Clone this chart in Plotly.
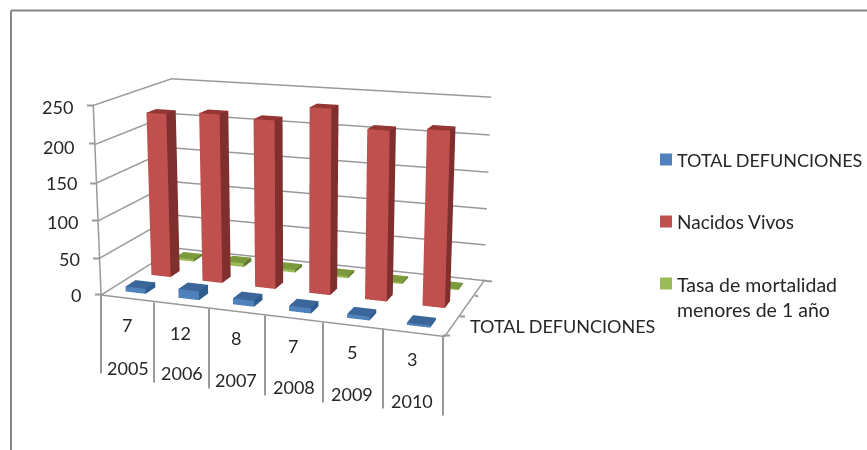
import plotly.graph_objects as go

W, H = 867, 450
years = ["2005", "2006", "2007", "2008", "2009", "2010"]
deaths_labels = ["7", "12", "8", "7", "5", "3"]
total_defunciones = [7, 12, 8, 7, 5, 3]
nacidos_vivos = [225, 229, 226, 246, 223, 228]
tasa_mortalidad = [3.2, 5.4, 3.7, 2.9, 2.3, 1.4]
z_ticks = [0, 50, 100, 150, 200, 250]
series_names = ["TOTAL DEFUNCIONES", "Nacidos Vivos", "Tasa de mortalidad<br>menores de 1 año"]

XR, YR, ZR = (0, 6), (0, 3), (0, 250)
eye = (1.6758, -4.6345, 1.2405); cen = (0.0172, 0, -0.0367); upv = (-0.0010, 0, 1.0); asp = (1.4, 0.6998, 0.7655)
CX, CY = 300.0, 205.0
HP = 1057; OFF = HP/2 - CY

COL={"blue":("#4F81BD","#2F5C8F","#3A6699"),"red":("#C0504D","#7F2F2D","#943634"),"green":("#9BBB59","#5F7A2F","#7A9A3C")}
def cuboid(vals,ypos,cols,name):
    X,Y,Z,I,J,K,F=[],[],[],[],[],[],[]
    y0,y1=ypos+.31,ypos+.69
    for n,v in enumerate(vals):
        x0,x1=n+.31,n+.69
        b=len(X)
        for zz in (0,v):
            for yy in (y0,y1):
                for xx in (x0,x1):
                    X.append(xx);Y.append(yy);Z.append(zz)
        for q,c in [((0,1,5,4),cols[0]),((1,3,7,5),cols[1]),((4,5,7,6),cols[2])]:
            I+=[b+q[0],b+q[0]];J+=[b+q[1],b+q[2]];K+=[b+q[2],b+q[3]];F+=[c,c]
    return go.Mesh3d(x=X,y=Y,z=Z,i=I,j=J,k=K,facecolor=F,flatshading=True,name=name,hoverinfo="skip",
        lighting=dict(ambient=1,diffuse=0,specular=0,fresnel=0,roughness=1))
GRID="#999999"
def polyline(xs,ys,zs,w=3,c=GRID):
    return go.Scatter3d(x=xs,y=ys,z=zs,mode="lines",line=dict(color=c,width=w),hoverinfo="skip",showlegend=False)

fig=go.Figure()
fig.add_trace(cuboid(total_defunciones,0,COL["blue"],series_names[0]))
fig.add_trace(cuboid(nacidos_vivos,1,COL["red"],series_names[1]))
fig.add_trace(cuboid(tasa_mortalidad,2,COL["green"],series_names[2]))
for z in z_ticks:
    fig.add_trace(polyline([0,0,6],[0,3,3],[z,z,z]))
fig.add_trace(polyline([0,0],[0,0],[0,250]))
fig.add_trace(polyline([0,6,6],[0,0,3],[0,0,0]))

ax_off=dict(visible=False,showgrid=False,showbackground=False,zeroline=False,showspikes=False)
fig.update_layout(width=W,height=HP,margin=dict(l=0,r=0,t=0,b=0),paper_bgcolor="white",showlegend=False,
    scene=dict(domain=dict(x=[0,2*CX/W],y=[0,1]),
        xaxis=dict(range=list(XR),**ax_off),yaxis=dict(range=list(YR),**ax_off),zaxis=dict(range=list(ZR),**ax_off),
        aspectmode="manual",aspectratio=dict(x=asp[0],y=asp[1],z=asp[2]),
        camera=dict(eye=dict(x=eye[0],y=eye[1],z=eye[2]),center=dict(x=cen[0],y=cen[1],z=cen[2]),
                    up=dict(x=upv[0],y=upv[1],z=upv[2]),projection=dict(type="perspective"))))
def fx(x): return x/W
def fy(y): return 1-(y+OFF)/HP
TXT="#262626"; FONT="Lato"
def label(x,y,t,anchor="center",size=18):
    fig.add_annotation(x=fx(x),y=fy(y),xref="paper",yref="paper",xanchor=anchor,yanchor="middle",showarrow=False,text=t,
        align="left",font=dict(family=FONT,size=size,color=TXT),borderpad=0,borderwidth=0)
def seg(x0,y0,x1,y1,c="#999999",w=2):
    fig.add_shape(type="line",xref="paper",yref="paper",x0=fx(x0),y0=fy(y0),x1=fx(x1),y1=fy(y1),line=dict(color=c,width=w))
seg(11,10,867,10,"#868686",2); seg(11,10,11,450,"#868686",2)
for t,x,y in zip(z_ticks,[81,80,78,77,74,73],[294,258,221,183,146,107]): label(x,y,str(t),"right")
for t,x,y in zip(deaths_labels,[127,180,236,293,352,412],[324,332,337,345,351,358]): label(x,y,t)
for t,x,y in zip(years,[128,182,236,294,352,412],[367,372,379,386,393,400]): label(x,y,t)
for x,y0 in zip([101,154,209,265,323,383,443],[293,302,308,315,322,328,335]): seg(x,y0,x,y0+80)
for (x0,y0),(x1,y1) in [((87,105),(94,105)),((89,143),(95,143)),((90,183),(97,183)),((92,220),(98,220)),((93,258),(100,258)),((95,294),(101,294))]:
    seg(x0,y0,x1,y1)
for (x0,y0),(x1,y1) in [((443,335),(450,335)),((460,316),(465,316)),((475,295),(478,296)),((483,280),(492,281))]:
    seg(x0,y0,x1,y1)
label(470,325,"TOTAL DEFUNCIONES","left")
legend_y=[159,221,283]; label_y=[159,221,296]; label_size=[18,19,19.5]
for yy,ly,sz,name,c in zip(legend_y,label_y,label_size,series_names,["#4F81BD","#C0504D","#9BBB59"]):
    fig.add_shape(type="rect",xref="paper",yref="paper",x0=fx(660),x1=fx(672),y0=fy(yy-6),y1=fy(yy+6),fillcolor=c,line=dict(width=0))
    label(677,ly,name,"left",sz)
post=f"document.documentElement.style.overflow='hidden';document.body.style.overflow='hidden';document.body.style.margin='0';document.getElementsByClassName('plotly-graph-div')[0].style.marginTop='{-OFF}px';"
fig.write_html("out.html",post_script=post,config=dict(displayModeBar=False))
